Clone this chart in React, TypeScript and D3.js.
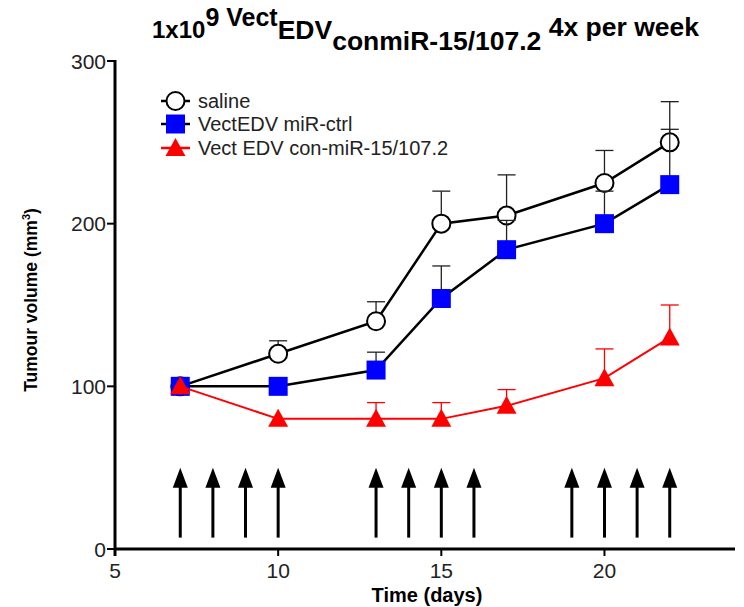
import React from "react";
import * as d3 from "d3";

const days = [7, 10, 13, 15, 17, 20, 22];
const salineMean = [100, 120, 140, 200, 205, 225, 250];
const salineUpper = [100, 128, 152, 220, 230, 245, 275];
const ctrlMean = [100, 100, 110, 154, 184, 200, 224];
const ctrlUpper = [100, 100, 121, 174, 202, 220, 258];
const mirMean = [100, 80, 80, 80, 88, 105, 130];
const mirUpper = [100, 80, 90, 90, 98, 123, 150];
const arrowDays = [7, 8, 9, 10, 13, 14, 15, 16, 19, 20, 21, 22];
const arrowRange = [7, 50];
const xTicks = [5, 10, 15, 20];
const yTicks = [0, 100, 200, 300];
const legendLabels = ["saline", "VectEDV miR-ctrl", "Vect EDV con-miR-15/107.2"];

const W = 744;
const H = 607;
const FONT = "'Liberation Sans', Arial, Helvetica, sans-serif";

export default function App() {
  const x = d3.scaleLinear().domain([5, 24]).range([115, 735]);
  const y = d3.scaleLinear().domain([0, 300]).range([549, 61]);
  const line = d3
    .line<[number, number]>()
    .x((d) => x(d[0]))
    .y((d) => y(d[1]));

  const pts = (m: number[]) => days.map((d, i) => [d, m[i]] as [number, number]);

  const errBars = (means: number[], uppers: number[], color: string, key: string) =>
    days.map((d, i) =>
      uppers[i] > means[i] ? (
        <g key={key + i} stroke={color} strokeWidth={1.3}>
          <line x1={x(d)} x2={x(d)} y1={y(means[i])} y2={y(uppers[i])} />
          <line x1={x(d) - 9} x2={x(d) + 9} y1={y(uppers[i])} y2={y(uppers[i])} />
        </g>
      ) : null
    );

  const circle = (cx: number, cy: number, k: string) => (
    <circle key={k} cx={cx} cy={cy} r={9} fill="white" stroke="black" strokeWidth={2} />
  );
  const square = (cx: number, cy: number, k: string) => (
    <rect key={k} x={cx - 9.5} y={cy - 9.5} width={19} height={19} fill="#0000ff" />
  );
  const tri = (cx: number, cy: number, k: string) => (
    <path
      key={k}
      d={`M${cx},${cy - 10} L${cx + 10},${cy + 8} L${cx - 10},${cy + 8} Z`}
      fill="#ff0000"
    />
  );

  const legendY = [101, 124, 148];

  return (
    <svg
      width={W}
      height={H}
      style={{ position: "absolute", left: 0, top: 0, background: "white" }}
      fontFamily={FONT}
    >
      {/* Title */}
      <text x={152} y={38} fontWeight="bold" fontSize={24} fill="black">
        <tspan>1x10</tspan>
        <tspan fontSize={25} dy={-12}>9 Vect</tspan>
        <tspan fontSize={26.5} dy={13}>EDV</tspan>
        <tspan fontSize={26.5} dy={11}>conmiR-15/107.2</tspan>
        <tspan fontSize={26.5} dy={-14}> 4x per week</tspan>
      </text>

      {/* Axes */}
      <line x1={x(5)} x2={x(5)} y1={y(300) - 1} y2={y(0) + 7} stroke="black" strokeWidth={3} />
      <line x1={x(5)} x2={x(24)} y1={y(0)} y2={y(0)} stroke="black" strokeWidth={3} />
      {yTicks.map((t) => (
        <g key={"yt" + t}>
          <line x1={x(5) - 8} x2={x(5)} y1={y(t)} y2={y(t)} stroke="black" strokeWidth={2} />
          <text x={x(5) - 9} y={y(t) + 7.5} textAnchor="end" fontSize={21} fill="#222">
            {t}
          </text>
        </g>
      ))}
      {xTicks.map((t) => (
        <g key={"xt" + t}>
          <line x1={x(t)} x2={x(t)} y1={y(0)} y2={y(0) + 7} stroke="black" strokeWidth={2} />
          <text x={x(t)} y={578} textAnchor="middle" fontSize={21} fill="#222">
            {t}
          </text>
        </g>
      ))}
      <text x={427} y={602} textAnchor="middle" fontWeight="bold" fontSize={20}>
        Time (days)
      </text>
      <text
        transform={`translate(37,300) rotate(-90)`}
        textAnchor="middle"
        fontWeight="bold"
        fontSize={17.5}
      >
        Tumour volume (mm<tspan fontSize={11} dy={-7}>3</tspan>
        <tspan dy={7}>)</tspan>
      </text>

      {/* Arrows */}
      {arrowDays.map((d) => (
        <g key={"ar" + d}>
          <line
            x1={x(d)}
            x2={x(d)}
            y1={y(arrowRange[0])}
            y2={y(arrowRange[1]) + 18}
            stroke="black"
            strokeWidth={3}
          />
          <path
            d={`M${x(d)},${y(arrowRange[1])} L${x(d) + 7.5},${y(arrowRange[1]) + 20} L${x(d) - 7.5},${y(arrowRange[1]) + 20} Z`}
            fill="black"
          />
        </g>
      ))}

      {/* Saline */}
      {errBars(salineMean, salineUpper, "#222", "se")}
      <path d={line(pts(salineMean)) || ""} fill="none" stroke="black" strokeWidth={2.5} />
      {days.map((d, i) => circle(x(d), y(salineMean[i]), "sc" + i))}

      {/* Ctrl */}
      {errBars(ctrlMean, ctrlUpper, "#222", "ce")}
      <path d={line(pts(ctrlMean)) || ""} fill="none" stroke="black" strokeWidth={2.5} />
      {days.map((d, i) => square(x(d), y(ctrlMean[i]), "cs" + i))}

      {/* miR */}
      {errBars(mirMean, mirUpper, "#ff0000", "me")}
      <path d={line(pts(mirMean)) || ""} fill="none" stroke="#ff0000" strokeWidth={2} />
      {days.map((d, i) => tri(x(d), y(mirMean[i]), "mt" + i))}

      {/* Legend */}
      <g>
        <line x1={161} x2={190} y1={legendY[0]} y2={legendY[0]} stroke="black" strokeWidth={2.5} />
        {circle(175.5, legendY[0], "lc")}
        <line x1={161} x2={190} y1={legendY[1]} y2={legendY[1]} stroke="black" strokeWidth={2.5} />
        {square(175.5, legendY[1], "ls")}
        <line x1={161} x2={190} y1={legendY[2]} y2={legendY[2]} stroke="#ff0000" strokeWidth={2.5} />
        {tri(175.5, legendY[2], "lt")}
        {legendLabels.map((l, i) => (
          <text key={l} x={198} y={legendY[i] + 7} fontSize={20} fill="#222">
            {l}
          </text>
        ))}
      </g>
    </svg>
  );
}
